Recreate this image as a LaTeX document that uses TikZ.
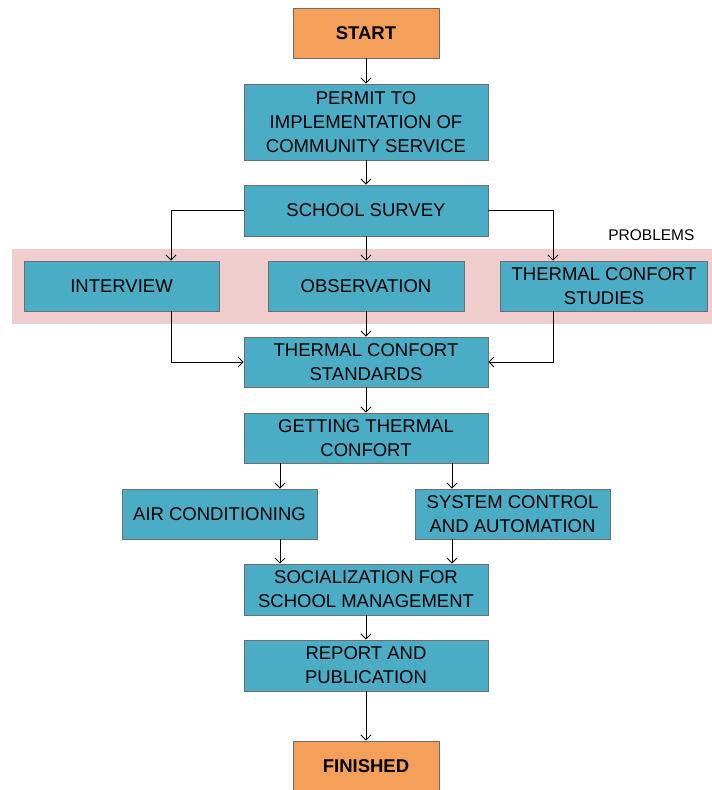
\documentclass[tikz,border=0pt]{standalone}
\usepackage{fontspec}
\setmainfont{Liberation Sans}
\usetikzlibrary{arrows.meta}
\definecolor{boxteal}{HTML}{4BACC6}
\definecolor{boxorange}{HTML}{F5A05A}
\definecolor{bandpink}{HTML}{F0CDCD}
\definecolor{boxedge}{HTML}{6E6E6E}
\tikzset{
  flowbox/.style={draw=boxedge, line width=0.9pt, fill=boxteal, align=center,
    inner sep=0pt, font=\fontsize{18.5}{24}\selectfont},
  termbox/.style={flowbox, fill=boxorange, font=\fontsize{18.5}{24}\selectfont\bfseries},
  link/.style={-{Straight Barb[length=5pt,width=10pt]}, line width=0.9pt, black}
}
\begin{document}
\begin{tikzpicture}[x=1pt,y=-1pt]
\useasboundingbox (0,0) rectangle (712,790);
\fill[bandpink] (12,249) rectangle (712,324);
\node[anchor=east, font=\fontsize{15.5}{18}\selectfont] (problems) at (698,235) {PROBLEMS};

\node[termbox, minimum width=146pt, minimum height=50pt] (start) at (366,33) {START};
\node[flowbox, minimum width=244pt, minimum height=76pt] (permit) at (366,122) {PERMIT TO\\IMPLEMENTATION OF\\COMMUNITY SERVICE};
\node[flowbox, minimum width=244pt, minimum height=51pt] (survey) at (366,210.5) {SCHOOL SURVEY};
\node[flowbox, minimum width=195pt, minimum height=50pt] (interview) at (121.5,286) {INTERVIEW};
\node[flowbox, minimum width=196pt, minimum height=50pt] (observation) at (366,286) {OBSERVATION};
\node[flowbox, minimum width=207pt, minimum height=50pt] (studies) at (604,286) {THERMAL CONFORT\\STUDIES};
\node[flowbox, minimum width=244pt, minimum height=50pt] (standards) at (366,362) {THERMAL CONFORT\\STANDARDS};
\node[flowbox, minimum width=244pt, minimum height=50pt] (getting) at (366,438) {GETTING THERMAL\\CONFORT};
\node[flowbox, minimum width=195pt, minimum height=50pt] (air) at (219.5,514) {AIR CONDITIONING};
\node[flowbox, minimum width=195pt, minimum height=50pt] (system) at (512.5,514) {SYSTEM CONTROL\\AND AUTOMATION};
\node[flowbox, minimum width=244pt, minimum height=51pt] (social) at (366,589.5) {SOCIALIZATION FOR\\SCHOOL MANAGEMENT};
\node[flowbox, minimum width=244pt, minimum height=51pt] (report) at (366,665.5) {REPORT AND\\PUBLICATION};
\node[termbox, minimum width=146pt, minimum height=50pt] (finished) at (366,766) {FINISHED};

\draw[link] (start) -- (permit);
\draw[link] (permit) -- (survey);
\draw[link] (survey.west) -| ([xshift=49.5pt]interview.north);
\draw[link] (survey) -- (observation);
\draw[link] (survey.east) -| ([xshift=-51pt]studies.north);
\draw[link] ([xshift=49.5pt]interview.south) |- (standards.west);
\draw[link] (observation) -- (standards);
\draw[link] ([xshift=-51pt]studies.south) |- (standards.east);
\draw[link] (standards) -- (getting);
\draw[link] ([xshift=-86pt]getting.south) -- ([xshift=-86pt]getting.south |- air.north);
\draw[link] ([xshift=86pt]getting.south) -- ([xshift=86pt]getting.south |- system.north);
\draw[link] ([xshift=60.5pt]air.south) -- ([xshift=60.5pt]air.south |- social.north);
\draw[link] ([xshift=-60.5pt]system.south) -- ([xshift=-60.5pt]system.south |- social.north);
\draw[link] (social) -- (report);
\draw[link] (report) -- (finished);
\end{tikzpicture}
\end{document}
